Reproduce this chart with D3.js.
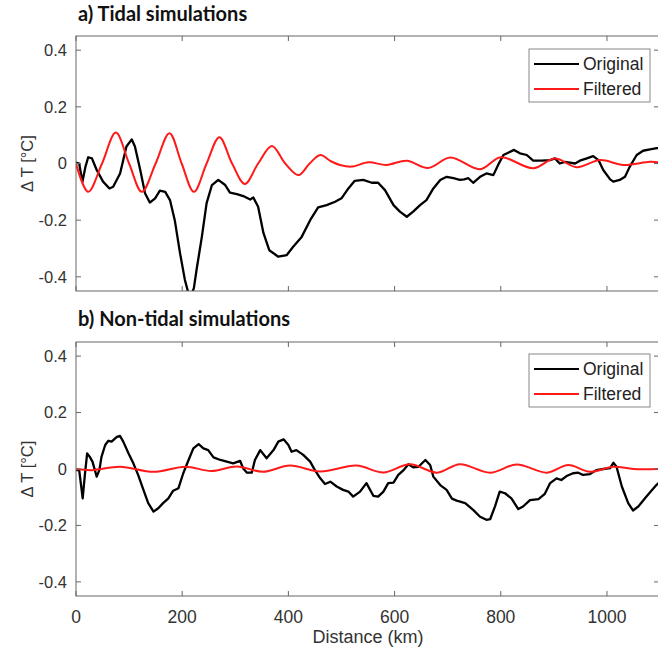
<!DOCTYPE html>
<html><head><meta charset="utf-8">
<script src="https://cdn.jsdelivr.net/npm/d3@7"></script>
<style>
html,body{margin:0;padding:0;background:#fff;}
svg{display:block;}
</style></head>
<body>
<svg id="chart" width="658" height="657"></svg>
<script>
// ---- data ----
const xTicks = [0, 200, 400, 600, 800, 1000];
const yTicks = [0.4, 0.2, 0, -0.2, -0.4];
const yTickLabels = ["0.4", "0.2", "0", "-0.2", "-0.4"];
const seriesNames = ["Original", "Filtered"];
const panelTitles = ["a) Tidal simulations", "b) Non-tidal simulations"];

const tidalOriginalDist = [0,6,12,18,23,30,39,51,63,70,83,95,105,111,121,130,139,149,158,168,177,186,196,205,212,218,222,227,237,246,256,268,281,290,303,315,328,334,343,353,364,381,397,409,425,441,456,472,488,500,513,525,541,557,569,582,598,610,623,635,648,660,673,686,698,711,723,731,739,748,761,773,786,795,805,814,825,836,849,861,877,893,902,911,921,930,940,949,962,974,984,993,1006,1012,1024,1034,1043,1056,1068,1081,1094,1100];
const tidalOriginalVal = [0.003,0.0,-0.065,-0.01,0.022,0.018,-0.023,-0.064,-0.088,-0.082,-0.035,0.06,0.085,0.06,-0.023,-0.105,-0.138,-0.123,-0.096,-0.1,-0.129,-0.2,-0.317,-0.41,-0.46,-0.46,-0.44,-0.376,-0.259,-0.14,-0.076,-0.058,-0.076,-0.103,-0.108,-0.115,-0.127,-0.12,-0.153,-0.245,-0.306,-0.329,-0.323,-0.294,-0.259,-0.2,-0.155,-0.147,-0.135,-0.123,-0.088,-0.061,-0.058,-0.068,-0.068,-0.094,-0.147,-0.17,-0.188,-0.17,-0.147,-0.129,-0.088,-0.058,-0.047,-0.052,-0.058,-0.056,-0.052,-0.068,-0.047,-0.035,-0.041,-0.005,0.03,0.038,0.048,0.036,0.03,0.01,0.01,0.012,0.018,0.0,0.006,0.003,0.0,0.01,0.018,0.026,0.012,-0.023,-0.056,-0.064,-0.058,-0.047,-0.011,0.03,0.045,0.05,0.054,0.055];

const tidalFilteredDist = [0,23,49,75,100,124,150,176,199,222,246,270,294,318,343,369,394,419,440,460,480,497,519,551,585,623,663,705,761,800,861,902,943,987,1031,1081,1100];
const tidalFilteredVal = [0.0,-0.1,0.0,0.109,0.0,-0.1,0.0,0.107,0.0,-0.1,0.0,0.093,0.0,-0.072,0.0,0.062,0.0,-0.041,0.0,0.03,0.008,-0.005,-0.011,0.004,-0.005,0.01,-0.016,0.021,-0.02,0.022,-0.017,0.018,-0.013,0.012,-0.005,0.006,0.004];

const nonTidalOriginalDist = [0,6,12.6,17,21,26,31,39,44,48,55,61,67,77,83,89,99,108,117,127,136,146,155,164,174,183,193,202,212,221,231,240,249,259,272,284,296,309,315,322,331,337,347,359,372,381,391,400,406,415,428,441,450,460,469,479,491,503,513,522,535,547,560,569,579,588,598,607,617,626,635,645,658,667,673,686,698,708,717,733,748,761,773,780,789,798,808,820,833,842,855,871,883,893,905,914,924,936,946,955,968,980,993,1006,1012,1018,1028,1040,1049,1059,1074,1093,1100];
const nonTidalOriginalVal = [-0.004,-0.004,-0.104,-0.015,0.055,0.043,0.026,-0.027,-0.004,0.043,0.085,0.1,0.097,0.114,0.117,0.097,0.055,0.02,-0.021,-0.074,-0.121,-0.151,-0.139,-0.121,-0.104,-0.077,-0.068,-0.015,0.032,0.073,0.088,0.073,0.067,0.041,0.032,0.026,0.02,0.029,0.002,-0.013,-0.013,0.032,0.067,0.038,0.067,0.097,0.105,0.085,0.061,0.067,0.05,0.026,-0.004,-0.033,-0.053,-0.045,-0.062,-0.074,-0.08,-0.098,-0.08,-0.05,-0.095,-0.098,-0.08,-0.05,-0.048,-0.021,-0.004,0.017,0.006,0.008,0.032,0.014,-0.027,-0.057,-0.074,-0.105,-0.112,-0.121,-0.145,-0.169,-0.18,-0.178,-0.133,-0.08,-0.086,-0.104,-0.142,-0.133,-0.11,-0.107,-0.088,-0.05,-0.033,-0.039,-0.025,-0.015,-0.013,-0.021,-0.018,-0.004,0.0,0.003,0.022,0.008,-0.062,-0.121,-0.147,-0.133,-0.098,-0.057,-0.045];

const nonTidalFilteredDist = [0,30,83,146,206,255,303,352,403,460,528,579,629,680,723,780,830,887,927,968,1012,1050,1100];
const nonTidalFilteredVal = [0.0,-0.004,0.008,-0.01,0.008,-0.007,0.009,-0.01,0.012,-0.009,0.012,-0.012,0.017,-0.013,0.017,-0.013,0.016,-0.013,0.014,-0.01,0.008,0.0,0.0];

// ---- layout ----
const svg = d3.select("#chart");
const colors = ["#000000", "#ff1a1a"];
const left = 76, right = 659;
const x = d3.scaleLinear().domain([0, 1098]).range([left, right]);

const panels = [
  {top: 36, bottom: 291, title: panelTitles[0], titleY: 21, showX: false,
   series: [[tidalOriginalDist, tidalOriginalVal], [tidalFilteredDist, tidalFilteredVal]], legendY: 49},
  {top: 342, bottom: 596, title: panelTitles[1], titleY: 326, showX: true,
   series: [[nonTidalOriginalDist, nonTidalOriginalVal], [nonTidalFilteredDist, nonTidalFilteredVal]], legendY: 354}
];

const axisColor = "#666";
const textColor = "#333";
const font = "Arial, 'Liberation Sans', sans-serif";

panels.forEach((p, pi) => {
  const y = d3.scaleLinear().domain([-0.45, 0.45]).range([p.bottom, p.top]);
  const g = svg.append("g");

  // title
  svg.append("text").attr("x", 78).attr("y", p.titleY)
    .attr("font-family", "Lato, 'Open Sans', sans-serif").attr("font-weight", "bold")
    .attr("font-size", 20).attr("fill", "#111").text(p.title);

  // clip
  const clipId = "clip" + pi;
  svg.append("clipPath").attr("id", clipId).append("rect")
    .attr("x", left).attr("y", p.top).attr("width", right - left).attr("height", p.bottom - p.top);

  // lines
  p.series.forEach((s, si) => {
    const pts = s[0].map((d, i) => [d, s[1][i]]);
    const line = d3.line().x(d => x(d[0])).y(d => y(d[1]))
      .curve(si === 1 ? d3.curveCatmullRom.alpha(0.5) : d3.curveLinear);
    g.append("path").datum(pts).attr("clip-path", `url(#${clipId})`)
      .attr("d", line).attr("fill", "none").attr("stroke", colors[si])
      .attr("stroke-width", si === 0 ? 2.3 : 2).attr("stroke-linejoin", "round");
  });

  // axes (MATLAB style: ticks inside, box)
  const ax = g.append("g").attr("stroke", axisColor).attr("fill", "none");
  ax.append("rect").attr("x", left).attr("y", p.top).attr("width", right - left).attr("height", p.bottom - p.top)
    .attr("stroke-width", 1);
  const tl = 5;
  xTicks.forEach(t => {
    ax.append("line").attr("x1", x(t)).attr("x2", x(t)).attr("y1", p.bottom).attr("y2", p.bottom - tl);
    ax.append("line").attr("x1", x(t)).attr("x2", x(t)).attr("y1", p.top).attr("y2", p.top + tl);
  });
  yTicks.forEach(t => {
    ax.append("line").attr("x1", left).attr("x2", left + tl).attr("y1", y(t)).attr("y2", y(t));
    ax.append("line").attr("x1", right).attr("x2", right - tl).attr("y1", y(t)).attr("y2", y(t));
  });

  // y tick labels
  yTicks.forEach((t, i) => {
    svg.append("text").attr("x", 67).attr("y", y(t)).attr("dy", "0.35em")
      .attr("text-anchor", "end").attr("font-family", font).attr("font-size", 16.5)
      .attr("fill", textColor).text(yTickLabels[i]);
  });

  // y label
  const cy = (p.top + p.bottom) / 2;
  svg.append("text").attr("transform", `translate(33,${cy}) rotate(-90)`)
    .attr("text-anchor", "middle").attr("font-family", font).attr("font-size", 16.5)
    .attr("fill", textColor).text("Δ T [°C]");

  if (p.showX) {
    xTicks.forEach(t => {
      svg.append("text").attr("x", x(t)).attr("y", p.bottom + 27)
        .attr("text-anchor", "middle").attr("font-family", font).attr("font-size", 17.5)
        .attr("fill", textColor).text(t);
    });
    svg.append("text").attr("x", 368).attr("y", p.bottom + 47)
      .attr("text-anchor", "middle").attr("font-family", font).attr("font-size", 18)
      .attr("fill", textColor).text("Distance (km)");
  }

  // legend
  const lg = svg.append("g").attr("transform", `translate(529,${p.legendY})`);
  lg.append("rect").attr("width", 121).attr("height", 53).attr("fill", "#fff")
    .attr("stroke", "#888").attr("stroke-width", 1);
  seriesNames.forEach((n, i) => {
    const ly = 15 + i * 25;
    lg.append("line").attr("x1", 5).attr("x2", 50).attr("y1", ly).attr("y2", ly)
      .attr("stroke", colors[i]).attr("stroke-width", 2);
    lg.append("text").attr("x", 54).attr("y", ly).attr("dy", "0.36em")
      .attr("font-family", font).attr("font-size", 17.5).attr("fill", "#222").text(n);
  });
});
</script>
</body></html>
